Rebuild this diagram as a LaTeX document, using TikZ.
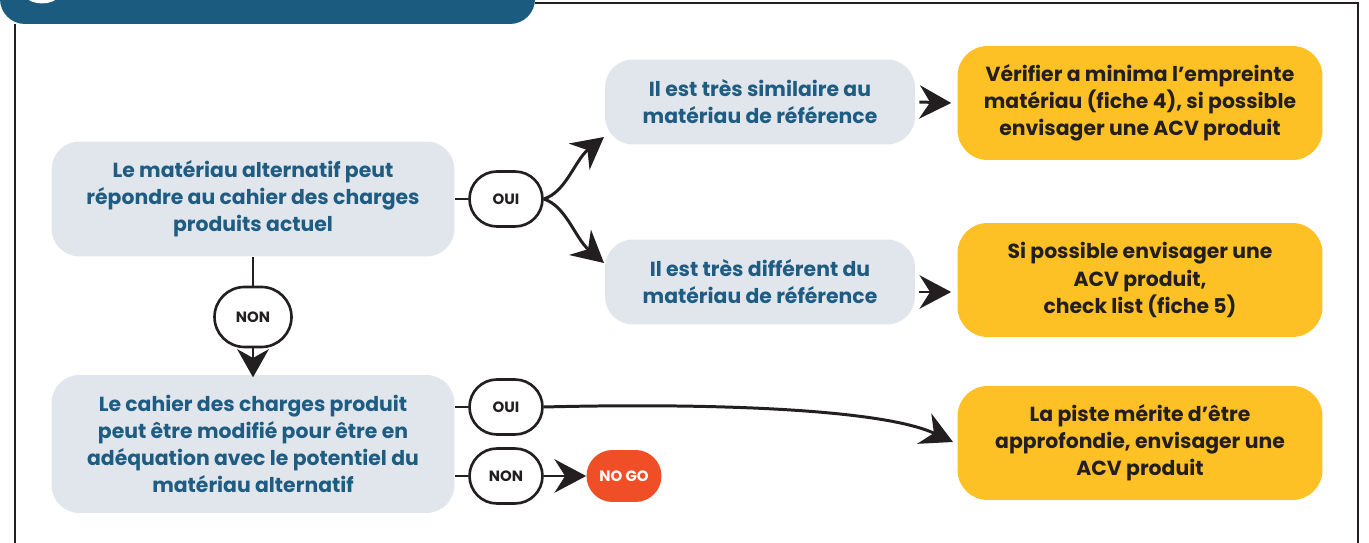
\documentclass[tikz,border=0pt]{standalone}
\usepackage{fontspec}
\setmainfont{Poppins}
\usetikzlibrary{arrows.meta,shapes.misc,calc}
\definecolor{bluebanner}{HTML}{1C5B80}
\definecolor{greybox}{HTML}{E1E5EC}
\definecolor{bluetext}{HTML}{1F5C82}
\definecolor{yellowbox}{HTML}{FDC125}
\definecolor{darkink}{HTML}{231F20}
\definecolor{nogored}{HTML}{F04E26}
\begin{document}
\begin{tikzpicture}[x=0.02cm,y=-0.02cm,
  qbox/.style={fill=greybox, rounded corners=0.56cm, text=bluetext,
    font=\bfseries\fontsize{11.6}{15.4}\selectfont, align=center, inner sep=0pt},
  abox/.style={fill=yellowbox, rounded corners=0.6cm, text=darkink,
    font=\bfseries\fontsize{11.6}{15.4}\selectfont, align=center, inner sep=0pt,
    minimum width=7.3cm, minimum height=2.28cm},
  pill/.style={rounded rectangle, draw=darkink, line width=1.5pt, fill=white,
    font=\bfseries\fontsize{8.5}{9}\selectfont, text=darkink,
    minimum width=1.46cm, minimum height=1.1cm, inner sep=0pt},
  nogo/.style={rounded rectangle, fill=nogored, text=white,
    font=\bfseries\fontsize{8.5}{9}\selectfont,
    minimum width=1.5cm, minimum height=1.04cm, inner sep=0pt},
  link/.style={draw=darkink, line width=1.7pt},
  arr/.style={link, -{Stealth[length=18pt,width=19pt,inset=6pt]}},
  frame/.style={draw=darkink, line width=1.4pt}
]
\useasboundingbox (0,0) rectangle (1369,543);

% banner and frame
\fill[bluebanner, rounded corners=0.5cm] (0,-60) rectangle (535,24);
\fill[white] (42,-24) circle (27.5);
\draw[frame] (15,543) -- (15,24);
\draw[frame] (535,3) -- (1358,3) -- (1358,543);

% question boxes
\node[qbox, minimum width=8.06cm, minimum height=2.3cm] (A) at (253,199)
  {Le matériau alternatif peut\\répondre au cahier des charges\\produits actuel};
\node[qbox, minimum width=8.06cm, minimum height=2.76cm] (B) at (253,444)
  {Le cahier des charges produit\\peut être modifié pour être en\\adéquation avec le potentiel du\\matériau alternatif};
\node[qbox, minimum width=6.2cm, minimum height=1.7cm] (C) at (760,102)
  {Il est très similaire au\\matériau de référence};
\node[qbox, minimum width=6.2cm, minimum height=1.7cm] (D) at (760,282)
  {Il est très différent du\\matériau de référence};

% answer boxes
\node[abox] (E) at (1140,103)
  {Vérifier a minima l’empreinte\\matériau (fiche 4), si possible\\envisager une ACV produit};
\node[abox] (F) at (1140,280)
  {Si possible envisager une\\ACV produit,\\check list (fiche 5)};
\node[abox] (G) at (1140,443)
  {La piste mérite d’être\\approfondie, envisager une\\ACV produit};

% pills
\node[pill] (oui1) at (506,199) {OUI};
\node[pill, minimum width=1.54cm, minimum height=1.2cm] (non1) at (253,317) {NON};
\node[pill] (oui2) at (506,407) {OUI};
\node[pill] (non2) at (506,476) {NON};
\node[nogo] (stop) at (624,476) {NO GO};

% connectors
\coordinate (tipC) at (604,137);
\coordinate (tipD) at (604,263);
\coordinate (tipG) at (953,442);
\draw[link] (A.east) -- (oui1.west);
\draw[arr] (oui1.east) .. controls (566,192) and (575,160) .. (tipC);
\draw[arr] (oui1.east) .. controls (566,206) and (575,238) .. (tipD);
\draw[link] (A.south) -- (non1.north);
\draw[link, -{Stealth[length=16pt,width=18pt,inset=5pt]}, shorten >=-1.5pt] (non1.south) -- (B.north);
\draw[arr] ($(C.east)+(4,0)$) -- ($(E.west)+(-6,0)$);
\draw[arr] ($(D.east)+(4,10)$) -- ($(F.west)+(-6,12)$);
\draw[link] (B.east |- oui2.west) -- (oui2.west);
\draw[arr] (oui2.east) .. controls (700,403) and (880,408) .. (tipG);
\draw[link] (B.east |- non2.west) -- (non2.west);
\draw[arr] (non2.east) -- (stop.west);
\end{tikzpicture}
\end{document}
